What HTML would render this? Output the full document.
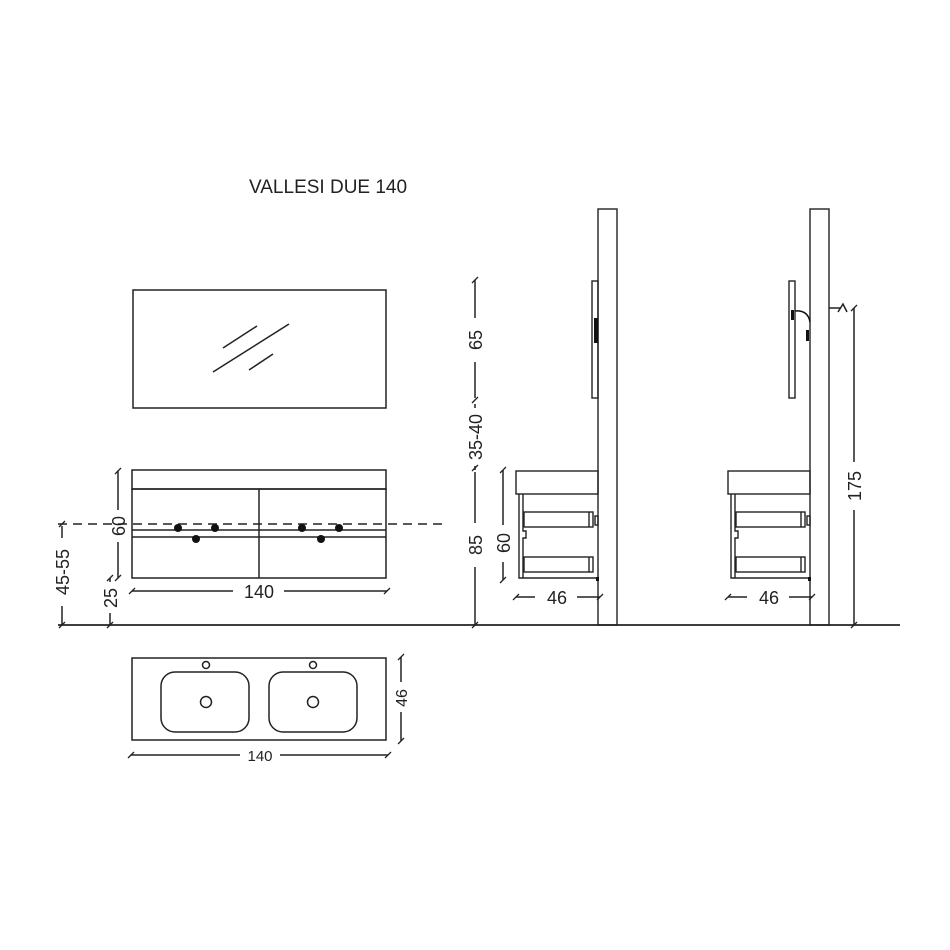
<!DOCTYPE html>
<html><head><style>body{margin:0;background:#fff}svg{display:block}</style></head><body>
<svg width="950" height="950" viewBox="0 0 950 950" xmlns="http://www.w3.org/2000/svg" font-family="Liberation Sans, Arial, sans-serif">
<rect width="950" height="950" fill="#fff"/>
<text x="249" y="193" font-size="19" fill="#222">VALLESI DUE 140</text>
<g stroke="#222" fill="none" stroke-width="1.5">
<rect x="133" y="290" width="253" height="118"/>
<line x1="223" y1="348" x2="257" y2="326"/><line x1="213" y1="372" x2="289" y2="324"/><line x1="249" y1="370" x2="273" y2="354"/>
<rect x="132" y="470" width="254" height="19"/>
<rect x="132" y="489" width="254" height="89"/>
<line x1="259" y1="489" x2="259" y2="578"/>
<line x1="132" y1="530" x2="386" y2="530"/><line x1="132" y1="537" x2="386" y2="537"/>
<line x1="58" y1="524" x2="442" y2="524" stroke-dasharray="9,6"/>
<line x1="58" y1="625" x2="900" y2="625" stroke-width="1.7"/>
<line x1="118" y1="471" x2="118" y2="510"/><line x1="118" y1="542" x2="118" y2="578"/>
<line x1="110" y1="578" x2="110" y2="582"/><line x1="110" y1="613" x2="110" y2="625"/>
<line x1="62" y1="526" x2="62" y2="538"/><line x1="62" y1="606" x2="62" y2="625"/>
<line x1="132" y1="591" x2="233" y2="591"/><line x1="284" y1="591" x2="387" y2="591"/>
<rect x="132" y="658" width="254" height="82"/>
<rect x="161" y="672" width="88" height="60" rx="14"/>
<rect x="269" y="672" width="88" height="60" rx="14"/>
<circle cx="206" cy="665" r="3.5"/><circle cx="313" cy="665" r="3.5"/>
<circle cx="206" cy="702" r="5.5"/><circle cx="313" cy="702" r="5.5"/>
<line x1="131" y1="755" x2="240" y2="755"/><line x1="280" y1="755" x2="388" y2="755"/>
<line x1="401" y1="657" x2="401" y2="682"/><line x1="401" y1="712" x2="401" y2="741"/>
<line x1="475" y1="280" x2="475" y2="318"/><line x1="475" y1="362" x2="475" y2="398"/>
<line x1="475" y1="404" x2="475" y2="408"/><line x1="475" y1="466" x2="475" y2="470"/>
<line x1="475" y1="472" x2="475" y2="523"/><line x1="475" y1="567" x2="475" y2="625"/>
<line x1="503" y1="470" x2="503" y2="525"/><line x1="503" y1="562" x2="503" y2="580"/>
<line x1="854" y1="308" x2="854" y2="462"/><line x1="854" y1="510" x2="854" y2="625"/>
<line x1="829" y1="308" x2="840" y2="308"/>
<path d="M838,312 L843,304 L847,312"/>
</g>
<g stroke="#222" stroke-width="1.3">
<path d="M115,474 l6,-6 M115,581 l6,-6 M107,581 l6,-6 M107,628 l6,-6 M59,527 l6,-6 M59,628 l6,-6 M129,594 l6,-6 M384,594 l6,-6 M128,758 l6,-6 M385,758 l6,-6 M398,660 l6,-6 M398,744 l6,-6 M472,283 l6,-6 M472,403 l6,-6 M472,471 l6,-6 M472,628 l6,-6 M500,473 l6,-6 M500,583 l6,-6 M851,311 l6,-6 M851,628 l6,-6"/>
</g>
<g fill="#111">
<circle cx="178" cy="528" r="4"/><circle cx="215" cy="528" r="4"/><circle cx="196" cy="539" r="4"/>
<circle cx="302" cy="528" r="4"/><circle cx="339" cy="528" r="4"/><circle cx="321" cy="539" r="4"/>
</g>
<g font-size="18" fill="#222" text-anchor="middle">
<text x="259" y="598">140</text>
<text x="260" y="761" font-size="15">140</text>
<text transform="translate(125,526) rotate(-90)">60</text>
<text transform="translate(117,598) rotate(-90)">25</text>
<text transform="translate(69,572) rotate(-90)">45-55</text>
<text transform="translate(407,698) rotate(-90)" font-size="16">46</text>
<text transform="translate(482,340) rotate(-90)">65</text>
<text transform="translate(482,437) rotate(-90)">35-40</text>
<text transform="translate(482,545) rotate(-90)">85</text>
<text transform="translate(510,543) rotate(-90)">60</text>
<text transform="translate(861,486) rotate(-90)">175</text>
</g>
<defs>
<g id="side">
<g stroke="#222" fill="none" stroke-width="1.4">
<rect x="598" y="209" width="19" height="416"/>
<rect x="516" y="471" width="82" height="23"/>
<path d="M519,494 V578 H598 M523,494 V531 H526 V538 H523 V578"/>
<rect x="524" y="512" width="69" height="15"/><line x1="589" y1="512" x2="589" y2="527"/>
<rect x="524" y="557" width="69" height="15"/><line x1="589" y1="557" x2="589" y2="572"/>
<rect x="595" y="516" width="3" height="9"/>
<line x1="516" y1="597" x2="535" y2="597"/><line x1="577" y1="597" x2="600" y2="597"/>
</g>
<path stroke="#222" stroke-width="1.3" d="M513,600 l6,-6 M597,600 l6,-6"/>
<rect x="596" y="577" width="3" height="4" fill="#111"/>
<text x="557" y="604" font-size="18" fill="#222" text-anchor="middle" font-family="Liberation Sans, Arial, sans-serif">46</text>
</g>
</defs>
<use href="#side"/>
<use href="#side" transform="translate(212,0)"/>
<rect x="592" y="281" width="6" height="117" fill="none" stroke="#222" stroke-width="1.4"/>
<rect x="594" y="318" width="4" height="25" fill="#111"/>
<rect x="789" y="281" width="6" height="117" fill="none" stroke="#222" stroke-width="1.4"/>
<rect x="791" y="310" width="3" height="10" fill="#111"/>
<path d="M795,311 Q808,310 810,322" fill="none" stroke="#111" stroke-width="1.5"/>
<rect x="806" y="330" width="3" height="11" fill="#111"/>
</svg>
</body></html>
